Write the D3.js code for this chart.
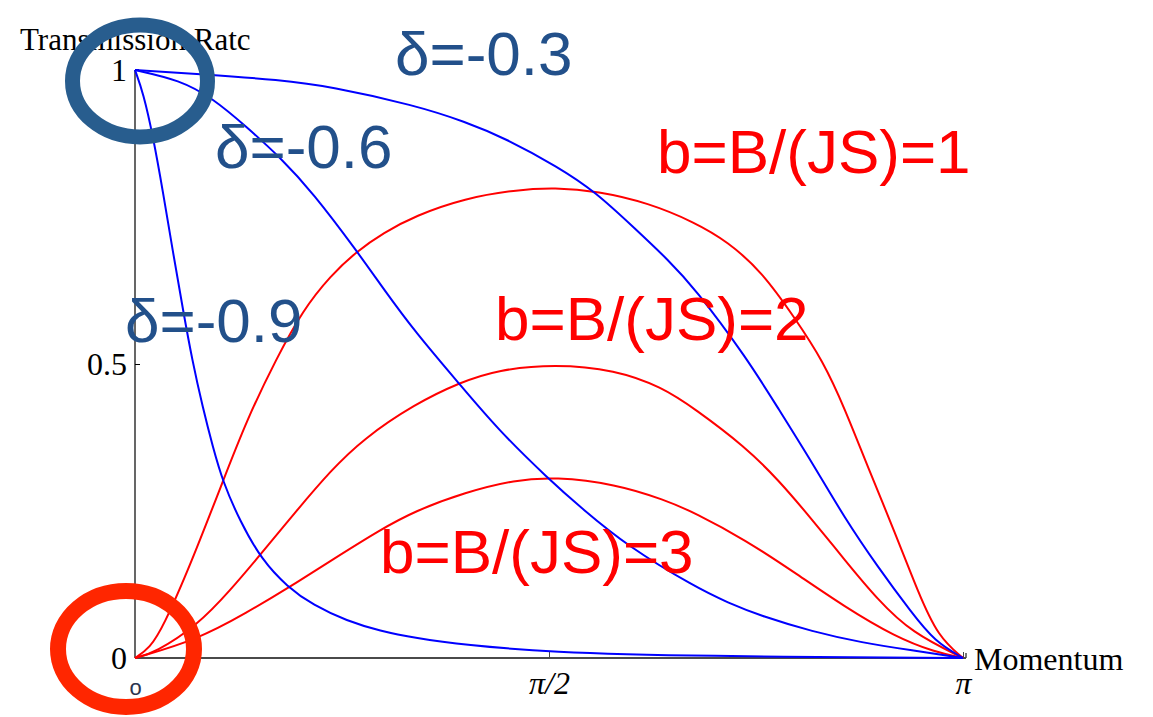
<!DOCTYPE html>
<html>
<head>
<meta charset="utf-8">
<script src="https://cdn.jsdelivr.net/npm/d3@7"></script>
<style>
  html, body { margin: 0; padding: 0; background: #fff; }
  svg { display: block; }
</style>
</head>
<body>
<svg id="chart" width="1153" height="717"></svg>
<script>
// Momentum k is stored in units of π (0 … 1); transmission rate T(k) in 0 … 1.

// δ curves (blue): transmission falls from 1 at k = 0 to 0 at k = π
const deltaNeg03K = [0, 0.082, 0.175, 0.236, 0.338, 0.399, 0.447, 0.511, 0.556, 0.604, 0.644, 0.676, 0.739, 0.777, 0.818, 0.857, 0.897, 0.938, 0.966, 1];
const deltaNeg03T = [1, 0.993, 0.983, 0.972, 0.940, 0.912, 0.884, 0.835, 0.793, 0.730, 0.677, 0.629, 0.510, 0.424, 0.332, 0.238, 0.155, 0.077, 0.028, 0];

const deltaNeg06K = [0, 0.054, 0.094, 0.135, 0.175, 0.215, 0.268, 0.300, 0.338, 0.393, 0.438, 0.499, 0.540, 0.595, 0.676, 0.716, 0.757, 0.818, 0.878, 0.938, 1];
const deltaNeg06T = [1, 0.983, 0.952, 0.903, 0.852, 0.791, 0.692, 0.628, 0.555, 0.464, 0.389, 0.305, 0.254, 0.190, 0.121, 0.094, 0.071, 0.045, 0.026, 0.013, 0];

const deltaNeg09K = [0, 0.010, 0.022, 0.034, 0.046, 0.058, 0.069, 0.082, 0.094, 0.106, 0.127, 0.153, 0.184, 0.215, 0.256, 0.296, 0.338, 0.399, 0.499, 0.676, 1];
const deltaNeg09T = [1, 0.961, 0.886, 0.791, 0.689, 0.592, 0.507, 0.425, 0.359, 0.300, 0.232, 0.167, 0.121, 0.090, 0.063, 0.046, 0.034, 0.022, 0.010, 0.003, 0];

// b = B/(JS) curves (red): zero at both ends, peak near k = π/2
const b1K = [0, 0.018, 0.034, 0.066, 0.106, 0.135, 0.171, 0.203, 0.236, 0.268, 0.300, 0.338, 0.399, 0.459, 0.507, 0.559, 0.620, 0.676, 0.716, 0.757, 0.797, 0.831, 0.857, 0.885, 0.918, 0.946, 0.970, 1];
const b1T = [0, 0.017, 0.053, 0.155, 0.300, 0.405, 0.510, 0.592, 0.650, 0.692, 0.723, 0.752, 0.782, 0.796, 0.800, 0.794, 0.774, 0.741, 0.708, 0.657, 0.578, 0.505, 0.425, 0.325, 0.213, 0.111, 0.036, 0];

const b2K = [0, 0.024, 0.075, 0.115, 0.151, 0.196, 0.236, 0.275, 0.338, 0.393, 0.438, 0.507, 0.580, 0.636, 0.676, 0.737, 0.777, 0.818, 0.857, 0.897, 0.938, 1];
const b2T = [0, 0.009, 0.055, 0.115, 0.175, 0.252, 0.318, 0.372, 0.432, 0.469, 0.490, 0.500, 0.490, 0.461, 0.424, 0.359, 0.303, 0.235, 0.167, 0.099, 0.043, 0];

const b3K = [0, 0.075, 0.135, 0.187, 0.236, 0.296, 0.338, 0.399, 0.459, 0.507, 0.580, 0.640, 0.676, 0.737, 0.797, 0.857, 0.918, 0.966, 1];
const b3T = [0, 0.031, 0.077, 0.121, 0.165, 0.218, 0.250, 0.282, 0.303, 0.308, 0.296, 0.269, 0.247, 0.201, 0.145, 0.087, 0.036, 0.010, 0];

// Axis ticks
const xTickValues = [0, 0.5, 1];
const xTickLabels = ["o", "π/2", "π"];
const yTickValues = [0, 0.5, 1];
const yTickLabels = ["0", "0.5", "1"];

// Curve labels
const deltaLabels = ["δ=-0.3", "δ=-0.6", "δ=-0.9"];
const bLabels = ["b=B/(JS)=1", "b=B/(JS)=2", "b=B/(JS)=3"];

const svg = d3.select("#chart");

const x = d3.scaleLinear().domain([0, 1]).range([135, 963]);
const y = d3.scaleLinear().domain([0, 1]).range([658, 70]);

const serif = "'Liberation Serif', 'Times New Roman', serif";
const sans = "'Liberation Sans', Arial, sans-serif";

// ---- axes ----
const yAxis = d3.axisLeft(y)
  .tickValues(yTickValues)
  .tickFormat((d, i) => yTickLabels[i])
  .tickSize(-5)
  .tickPadding(8);
const gy = svg.append("g").attr("transform", `translate(${x(0)},0)`).call(yAxis);
gy.select(".domain").remove();
gy.selectAll(".tick line").attr("stroke", "#000").attr("stroke-width", 1);
gy.selectAll(".tick text")
  .attr("font-family", serif).attr("font-size", 32).attr("fill", "#000")
  .attr("dy", "0.33em");

const xAxis = d3.axisBottom(x)
  .tickValues(xTickValues)
  .tickFormat((d, i) => xTickLabels[i])
  .tickSize(-6)
  .tickPadding(0);
const gx = svg.append("g").attr("transform", `translate(0,${y(0)})`).call(xAxis);
gx.select(".domain").remove();
gx.selectAll(".tick line").attr("stroke", "#444").attr("stroke-width", 1);
gx.selectAll(".tick text")
  .attr("dy", null)
  .attr("y", (d, i) => i === 0 ? 37 : 36)
  .attr("font-family", (d, i) => i === 0 ? sans : serif)
  .attr("font-style", (d, i) => i === 0 ? "normal" : "italic")
  .attr("font-size", (d, i) => i === 0 ? 22 : 32)
  .attr("fill", (d, i) => i === 0 ? "#2b3550" : "#000");
gx.select(".tick:first-of-type line").remove();

// axis lines
svg.append("line")
  .attr("x1", x(0)).attr("x2", x(0)).attr("y1", y(1)).attr("y2", y(0))
  .attr("stroke", "#000").attr("stroke-width", 1.2);
svg.append("line")
  .attr("x1", x(0)).attr("x2", x(1) + 3).attr("y1", y(0)).attr("y2", y(0))
  .attr("stroke", "#4a4a4a").attr("stroke-width", 2);
svg.append("line")
  .attr("x1", x(1) + 3).attr("x2", x(1) + 3).attr("y1", y(0)).attr("y2", y(0) - 5)
  .attr("stroke", "#4a4a4a").attr("stroke-width", 1.5);
svg.append("line")
  .attr("x1", x(0)).attr("x2", x(0) + 4).attr("y1", y(1)).attr("y2", y(1))
  .attr("stroke", "#000").attr("stroke-width", 1.5);

// axis titles
svg.append("text")
  .attr("x", 20).attr("y", 50)
  .attr("font-family", serif).attr("font-size", 31).attr("fill", "#000")
  .text("Transmission Ratc");
svg.append("text")
  .attr("x", 974).attr("y", 670)
  .attr("font-family", serif).attr("font-size", 32).attr("fill", "#000")
  .text("Momentum");

// ---- curves ----
const line = d3.line()
  .x(d => x(d[0]))
  .y(d => y(d[1]))
  .curve(d3.curveBasis);

const zipSeries = (ks, ts) => ks.map((k, i) => [k, ts[i]]);

const series = [
  { pts: zipSeries(b1K, b1T), color: "#ff0000" },
  { pts: zipSeries(b2K, b2T), color: "#ff0000" },
  { pts: zipSeries(b3K, b3T), color: "#ff0000" },
  { pts: zipSeries(deltaNeg03K, deltaNeg03T), color: "#0000ff" },
  { pts: zipSeries(deltaNeg06K, deltaNeg06T), color: "#0000ff" },
  { pts: zipSeries(deltaNeg09K, deltaNeg09T), color: "#0000ff" }
];

svg.append("g").selectAll("path")
  .data(series)
  .join("path")
  .attr("d", d => line(d.pts))
  .attr("fill", "none")
  .attr("stroke", d => d.color)
  .attr("stroke-width", 2);

// ---- curve labels ----
const deltaPos = [[395, 75], [215, 168], [125, 342]];
svg.append("g").selectAll("text")
  .data(deltaLabels)
  .join("text")
  .attr("x", (d, i) => deltaPos[i][0])
  .attr("y", (d, i) => deltaPos[i][1])
  .attr("font-family", sans).attr("font-size", 62).attr("fill", "#22508a")
  .text(d => d);

const bPos = [[657, 173], [495, 340], [380, 573]];
svg.append("g").selectAll("text")
  .data(bLabels)
  .join("text")
  .attr("x", (d, i) => bPos[i][0])
  .attr("y", (d, i) => bPos[i][1])
  .attr("font-family", sans).attr("font-size", 62).attr("fill", "#ff0000")
  .text(d => d);

// ---- highlight rings at T = 1 and T = 0 ----
svg.append("ellipse")
  .attr("cx", 140).attr("cy", 81).attr("rx", 67.5).attr("ry", 56)
  .attr("fill", "none").attr("stroke", "#285d8e").attr("stroke-width", 15);
svg.append("ellipse")
  .attr("cx", 126).attr("cy", 649).attr("rx", 68).attr("ry", 58)
  .attr("fill", "none").attr("stroke", "#ff2600").attr("stroke-width", 16);
</script>
</body>
</html>
